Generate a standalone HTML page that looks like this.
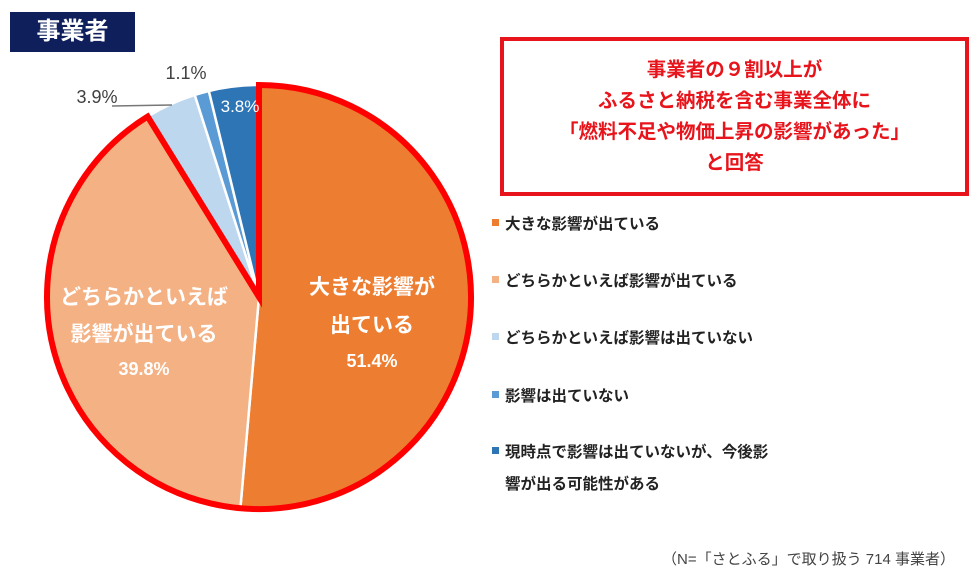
<!DOCTYPE html>
<html><head><meta charset="utf-8">
<style>
body{margin:0;width:980px;height:582px;background:#fff;overflow:hidden;font-family:"Liberation Sans","Noto Sans CJK JP",sans-serif;position:relative}
.hdr{position:absolute;left:10px;top:12px;width:125px;height:40px;background:#0e1f5b;color:#fff;font-weight:bold;font-size:24px;line-height:40px;text-align:center}
.call{position:absolute;left:500px;top:37px;width:461px;height:137px;border:4px solid #e8141b;color:#e8141b;font-weight:bold;font-size:19.5px;line-height:31px;text-align:center;box-sizing:content-box;padding-top:14px}
.leg{position:absolute;left:492px;font-size:15.5px;color:#222;font-weight:bold;line-height:32px}
.sw{display:inline-block;width:7px;height:7px;margin-right:6px;vertical-align:middle;position:relative;top:-2px}
.note{position:absolute;left:662px;top:548px;font-size:15px;color:#444}
</style></head><body>
<div class="hdr">事業者</div>
<div class="call">事業者の９割以上が<br>ふるさと納税を含む事業全体に<br>「燃料不足や物価上昇の影響があった」<br>と回答</div>
<svg id="pie" width="980" height="582" style="position:absolute;left:0;top:0"></svg>
<div id="legend"></div>
<div class="note">（N=「さとふる」で取り扱う 714 事業者）</div>
<script>
const categories=["大きな影響が出ている","どちらかといえば影響が出ている","どちらかといえば影響は出ていない","影響は出ていない","現時点で影響は出ていないが、今後影響が出る可能性がある"];
const values=[51.4,39.8,3.9,1.1,3.8];
const colors=["#ed7d31","#f4b183","#bdd7ee","#5b9bd5","#2e75b6"];
const NS="http://www.w3.org/2000/svg";
const svg=document.getElementById('pie');
const cx=259,cy=297,r=212;
const total=values.reduce((a,b)=>a+b,0);
function pt(frac,rad){const a=frac*2*Math.PI-Math.PI/2;return [cx+rad*Math.cos(a),cy+rad*Math.sin(a)];}
let acc=0;const starts=[];
values.forEach((v,i)=>{
  const s=acc/total,e=(acc+v)/total;starts.push([s,e]);acc+=v;
  const p0=pt(s,r),p1=pt(e,r);
  const path=document.createElementNS(NS,'path');
  path.setAttribute('d',`M${cx},${cy}L${p0[0]},${p0[1]}A${r},${r} 0 ${e-s>0.5?1:0} 1 ${p1[0]},${p1[1]}Z`);
  path.setAttribute('fill',colors[i]);path.setAttribute('stroke','#fff');path.setAttribute('stroke-width','2.5');
  
  
  svg.appendChild(path);
});
const e2=starts[1][1];const q0=pt(0,r),q1=pt(e2,r);
const ol=document.createElementNS(NS,'path');
ol.setAttribute('d',`M${cx},${cy}L${q0[0]},${q0[1]}A${r},${r} 0 1 1 ${q1[0]},${q1[1]}Z`);
ol.setAttribute('fill','none');ol.setAttribute('stroke','#ff0000');ol.setAttribute('stroke-width','6');ol.setAttribute('stroke-linejoin','miter');


svg.appendChild(ol);
function txt(x,y,t,fill,size,name,weight){const el=document.createElementNS(NS,'text');el.setAttribute('x',x);el.setAttribute('y',y);el.setAttribute('fill',fill);el.setAttribute('font-size',size);el.setAttribute('font-weight',weight||'bold');el.setAttribute('text-anchor','middle');el.setAttribute('font-family','"Liberation Sans","Noto Sans CJK JP",sans-serif');el.textContent=t;


svg.appendChild(el);}
txt(372,294,"大きな影響が","#fff",21,"label-slice-1");
txt(372,332,"出ている","#fff",21,"label-slice-1b");
txt(372,367,values[0].toFixed(1)+"%","#fff",18,"value-slice-1");
txt(144,304,"どちらかといえば","#fff",21,"label-slice-2");
txt(144,341,"影響が出ている","#fff",21,"label-slice-2b");
txt(144,375,values[1].toFixed(1)+"%","#fff",18,"value-slice-2");
const tv=(i)=>values[i].toFixed(1)+"%";
txt(97,103,tv(2),"#404040",18,"value-slice-3","normal");
const ln=document.createElementNS(NS,'line');ln.setAttribute('x1',112);ln.setAttribute('y1',106);ln.setAttribute('x2',172);ln.setAttribute('y2',105);ln.setAttribute('stroke','#777');ln.setAttribute('stroke-width','1.5');


svg.appendChild(ln);
txt(186,79,tv(3),"#404040",18,"value-slice-4","normal");
txt(240,112,tv(4),"#fff",17,"value-slice-5","normal");
const lg=document.getElementById('legend');
const tops=[209,266,323,381,437];
categories.forEach((c,i)=>{
  const d=document.createElement('div');d.className='leg';d.style.top=tops[i]+'px';
  
  
  if(i===4){d.innerHTML=`<span class="sw" style="background:${colors[i]}"></span>現時点で影響は出ていないが、今後影<br><span style="padding-left:13px">響が出る可能性がある</span>`;}
  else d.innerHTML=`<span class="sw" style="background:${colors[i]}"></span>${c}`;
  lg.appendChild(d);
});
</script>
</body></html>
